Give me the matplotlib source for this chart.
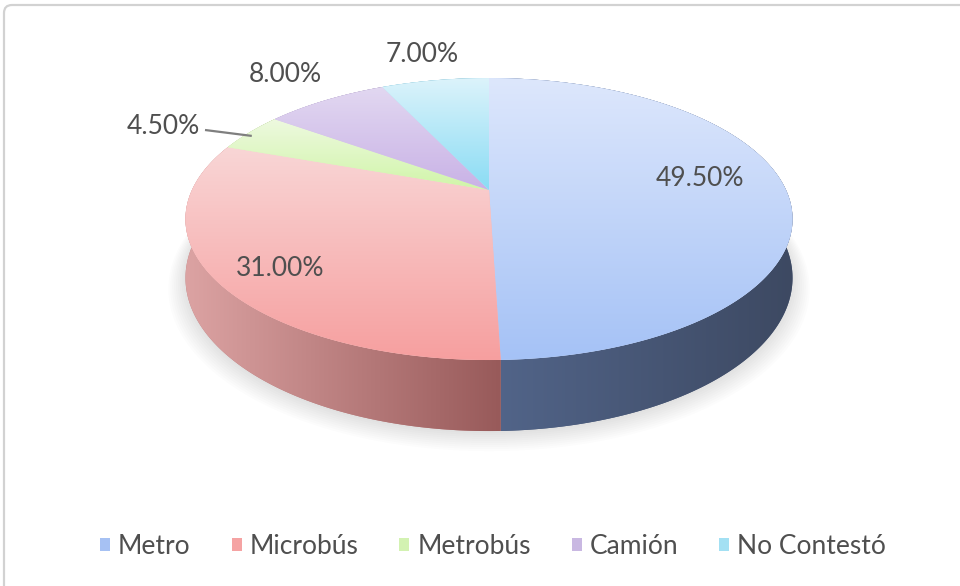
import numpy as np
import matplotlib
matplotlib.use("Agg")
import matplotlib.pyplot as plt
from matplotlib.patches import Polygon, Patch, FancyBboxPatch
from matplotlib.colors import LinearSegmentedColormap

# ---- data -------------------------------------------------------------
categories = ["Metro", "Microbús", "Metrobús", "Camión", "No Contestó"]
shares = [49.5, 31.0, 4.5, 8.0, 7.0]          # percent

# ---- style ------------------------------------------------------------
top_light = ["#dde7fc", "#f9d6d6", "#eef9e0", "#e2d8f1", "#dcf3fb"]
top_dark = ["#a5c2f6", "#f69f9f", "#d0f5a8", "#c9b2e6", "#8adcf4"]
side_light = ["#52658a", "#dca3a3", "#c0d89a", "#b3a0cc", "#78c0d8"]
side_dark = ["#3d4962", "#985a5a", "#8aa860", "#7a6a94", "#4a8aa0"]
legend_colors = ["#a6c1f3", "#f5a3a3", "#d3f2b2", "#c9b8e2", "#a3e0f3"]
TEXT = "#4f4f4f"
FONT = ["Lato", "DejaVu Sans"]

# label anchor points (pixels) for each slice's percentage
label_xy = [(700, 178), (280, 268), (163, 126), (285, 75), (422, 54)]

W, H = 960, 586

# ---- perspective projection of the pie disk ---------------------------
CX, Y0 = 489.0, 190.0     # projected centre of the top face
SX, SY = 297.0, 135.0     # horizontal / depth scale
K = 0.206                 # perspective strength
DEPTH = 56.4              # thickness of the pie


def project(theta, r=1.0, z=0.0):
    u = r * np.sin(theta)
    v = r * np.cos(theta)
    d = 1.0 + K * v
    return CX + SX * u / d, Y0 - SY * v / d + DEPTH * z / d


def gradient_fill(ax, verts, c0, c1, vertical=True, zorder=2):
    cmap = LinearSegmentedColormap.from_list("g", [c0, c1])
    base = Polygon(verts, closed=True, facecolor=cmap(0.5),
                   edgecolor="none", zorder=zorder)
    ax.add_patch(base)
    x0, y0 = verts.min(axis=0)
    x1, y1 = verts.max(axis=0)
    if vertical:
        arr = np.linspace(0, 1, 256).reshape(-1, 1)
    else:
        arr = np.linspace(0, 1, 256).reshape(1, -1)
    im = ax.imshow(arr, cmap=cmap, extent=(x0, x1, y1, y0), origin="upper",
                   aspect="auto", interpolation="bilinear", zorder=zorder + 0.1)
    im.set_clip_path(base)


fig = plt.figure(figsize=(W / 100, H / 100), dpi=100, facecolor="white")
ax = fig.add_axes([0, 0, 1, 1])
ax.set_axis_off()

# chart frame
ax.add_patch(FancyBboxPatch((4, 5), 1200, 900,
                            boxstyle="round,pad=0,rounding_size=8",
                            fc="white", ec="#d2d2d2", lw=1.6, zorder=0))

fr = np.array(shares) / sum(shares)
edges = np.concatenate([[0], np.cumsum(fr)]) * 2 * np.pi

# soft shadow below the pie
full = np.linspace(0, 2 * np.pi, 400)
for i in range(10):
    sx, sy = project(full, r=1.0 + 0.006 * i, z=1.0)
    sh = np.column_stack([sx, sy + 2 + 0.6 * i])
    ax.add_patch(Polygon(sh, closed=True, fc="black", ec="none",
                         alpha=0.012, zorder=0.5))

# outer side walls
for i in range(len(shares)):
    t = np.linspace(edges[i], edges[i + 1], 200)
    xt, yt = project(t, z=0.0)
    xb, yb = project(t, z=1.0)
    verts = np.column_stack([np.concatenate([xt, xb[::-1]]),
                             np.concatenate([yt, yb[::-1]])])
    gradient_fill(ax, verts, side_light[i], side_dark[i], vertical=False,
                  zorder=1)

# top faces (slightly overlapping wedges hide the seams)
for i in range(len(shares)):
    pad = 0.004 if i < len(shares) - 1 else 0.0
    t = np.linspace(edges[i], edges[i + 1] + pad, 200)
    xt, yt = project(t)
    verts = np.column_stack([np.concatenate([[CX], xt]),
                             np.concatenate([[Y0], yt])])
    gradient_fill(ax, verts, top_light[i], top_dark[i], vertical=True,
                  zorder=3 + 0.2 * i)

# percentage labels
for i, v in enumerate(shares):
    x, y = label_xy[i]
    ax.text(x, y, f"{v:.2f}%", ha="center", va="center", fontsize=19,
            color=TEXT, family=FONT, zorder=6)

# leader line for the thin Metrobús slice
mid = 0.5 * (edges[2] + edges[3])
rx, ry = project(mid, r=0.99)
lx, ly = label_xy[2]
ax.plot([lx + 42, rx], [ly + 4, ry + 3], color="#7f7f7f", lw=1.6,
        solid_capstyle="butt", zorder=6)

ax.set_xlim(0, W)
ax.set_ylim(H, 0)

handles = [Patch(facecolor=c, edgecolor="none") for c in legend_colors]
leg = ax.legend(handles, categories, loc="center",
                bbox_to_anchor=(493 / W, 1 - 546 / H), ncol=5, frameon=False,
                prop={"family": FONT, "size": 19}, labelcolor=TEXT,
                handlelength=0.38, handleheight=0.38, handletextpad=0.3,
                columnspacing=1.55, borderaxespad=0)

fig.savefig("out.png", dpi=100, facecolor="white")
